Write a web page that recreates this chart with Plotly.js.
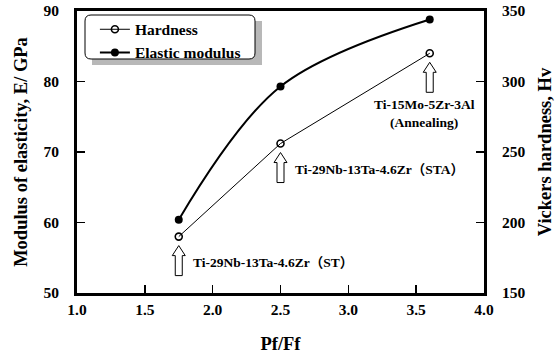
<!DOCTYPE html>
<html>
<head>
<meta charset="utf-8">
<script src="https://cdn.plot.ly/plotly-3.0.1.min.js"></script>
<style>html,body{margin:0;padding:0;background:#fff;}#chart{width:557px;height:361px;}</style>
</head>
<body>
<div id="chart"></div>
<script>
// ---- data ----
const pfff = [1.75, 2.5, 3.6];
const elasticModulus = [60.4, 79.3, 88.8];   // GPa, left axis
const hardness = [190, 256, 320];            // Hv, right axis
const alloyLabels = [
  "Ti-29Nb-13Ta-4.6Zr（ST）",
  "Ti-29Nb-13Ta-4.6Zr（STA）",
  "Ti-15Mo-5Zr-3Al<br>(Annealing)"
];
const xTicks = [1.0, 1.5, 2.0, 2.5, 3.0, 3.5, 4.0];
const xTickText = ["1.0", "1.5", "2.0", "2.5", "3.0", "3.5", "4.0"];

const SERIF = "Liberation Serif, Times New Roman, Noto Sans CJK JP, serif";
const bold = (size) => ({family: SERIF, size: size, color: "#000", weight: "bold"});

const traces = [
  {
    x: pfff, y: hardness, yaxis: "y2", name: "Hardness",
    mode: "lines+markers", type: "scatter",
    line: {color: "#000", width: 1},
    marker: {symbol: "circle-open", size: 7, color: "#000", line: {width: 1.6, color: "#000"}}
  },
  {
    x: pfff, y: elasticModulus, name: "Elastic modulus",
    mode: "lines+markers", type: "scatter",
    line: {color: "#000", width: 2, shape: "spline", smoothing: 1},
    marker: {symbol: "circle", size: 8, color: "#000"}
  }
];

// hollow up-arrows below each hardness point (pixel geometry, anchored at data)
const arrowPath = "M0,-9 L6.5,-19 L3.5,-19 L3.5,-39 L-3.5,-39 L-3.5,-19 L-6.5,-19 Z";
const shapes = [];
// legend shadow + box (decoration)
shapes.push({type: "path", xref: "paper", yref: "paper", xsizemode: "pixel", ysizemode: "pixel",
  xanchor: 0, yanchor: 1, layer: "above",
  path: "M15,-10 L185,-10 L185,-54 L15,-54 Z",
  fillcolor: "#b8b8b8", line: {width: 0}});
shapes.push({type: "path", xref: "paper", yref: "paper", xsizemode: "pixel", ysizemode: "pixel",
  xanchor: 0, yanchor: 1, layer: "above",
  path: "M14,-4 L172,-4 Q178,-4 178,-10 L178,-42 Q178,-48 172,-48 L14,-48 Q8,-48 8,-42 L8,-10 Q8,-4 14,-4 Z",
  fillcolor: "#fff", line: {width: 1, color: "#000"}});
pfff.forEach((xv, i) => {
  shapes.push({type: "path", xref: "x", yref: "y2", xsizemode: "pixel", ysizemode: "pixel",
    xanchor: xv, yanchor: hardness[i], layer: "above",
    path: arrowPath, fillcolor: "#fff", line: {color: "#000", width: 1}});
});

const labelShift = [
  {xanchor: "left", xshift: 12, yshift: -26},
  {xanchor: "left", xshift: 12, yshift: -26},
  {xanchor: "center", xshift: -5, yshift: -60}
];
const annotations = pfff.map((xv, i) => ({
  x: xv, y: hardness[i], xref: "x", yref: "y2",
  text: alloyLabels[i], showarrow: false,
  xanchor: labelShift[i].xanchor, yanchor: "middle",
  xshift: labelShift[i].xshift, yshift: labelShift[i].yshift,
  font: bold(13.5), align: "center"
}));

const layout = {
  width: 557, height: 361,
  margin: {l: 77, r: 73, t: 11, b: 68, pad: 0},
  paper_bgcolor: "#fff", plot_bgcolor: "#fff",
  showlegend: true,
  legend: {x: 0.044, y: 0.994, xanchor: "left", yanchor: "top",
    bgcolor: "rgba(0,0,0,0)", borderwidth: 0, font: bold(15.5),
    traceorder: "normal", itemwidth: 30, tracegroupgap: 0},
  xaxis: {
    range: [1, 4], tickvals: xTicks, ticktext: xTickText,
    ticks: "inside", ticklen: 8, tickwidth: 1.5, tickcolor: "#000",
    showline: true, linewidth: 3, linecolor: "#000", mirror: true,
    showgrid: false, zeroline: false, tickfont: bold(15.5),
    title: {text: "Pf/Ff", font: bold(18.5), standoff: 21}, automargin: false
  },
  yaxis: {
    range: [50, 90], dtick: 10,
    ticks: "inside", ticklen: 8, tickwidth: 1.5, tickcolor: "#000",
    showline: true, linewidth: 3, linecolor: "#000",
    showgrid: false, zeroline: false, tickfont: bold(15.5), ticklabelstandoff: 12,
    title: {text: "Modulus of elasticity, E/ GPa", font: bold(18.5), standoff: 11}, automargin: false
  },
  yaxis2: {
    range: [150, 350], dtick: 50, overlaying: "y", side: "right",
    ticks: "inside", ticklen: 8, tickwidth: 1.5, tickcolor: "#000",
    showline: true, linewidth: 3, linecolor: "#000",
    showgrid: false, zeroline: false, tickfont: bold(15.5), ticklabelstandoff: 12,
    title: {text: "Vickers hardness, Hv", font: bold(18.5), standoff: 14}, automargin: false
  },
  shapes: shapes,
  annotations: annotations
};

Plotly.newPlot("chart", traces, layout, {displayModeBar: false, staticPlot: true});
</script>
</body>
</html>
